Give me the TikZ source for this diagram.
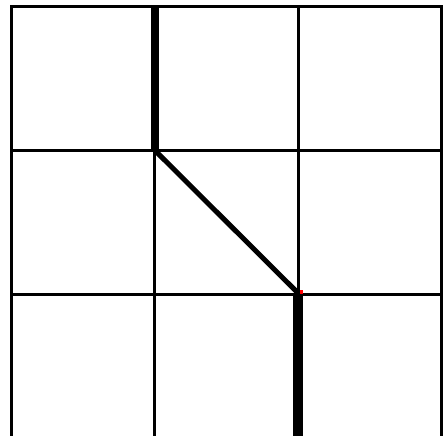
\documentclass[tikz,border=0pt]{standalone}
\usepackage{tikz}

\begin{document}
\begin{tikzpicture}[x=1pt,y=-1pt,
  gridline/.style={line width=3pt},
  route/.style={line width=5pt}]
\useasboundingbox (0,0) rectangle (443,436);
% grid
\foreach \x in {11,154.5,298,441.5} \draw[gridline] (\x,5.5) -- (\x,436);
\foreach \y in {7,150.5,294.5} \draw[gridline] (11,\y) -- (441.5,\y);
% path through the grid
\coordinate (start) at (155,7);
\coordinate (turnA) at (155,150.5);
\coordinate (turnB) at (298,293);
\coordinate (finish) at (298,436);
\draw[line width=8pt] (start) -- (turnA);
\draw[route] (turnA) -- (turnB);
\draw[line width=10pt] (turnB) -- (finish);
\fill[red] (300,290) rectangle (303,294);
\end{tikzpicture}
\end{document}
